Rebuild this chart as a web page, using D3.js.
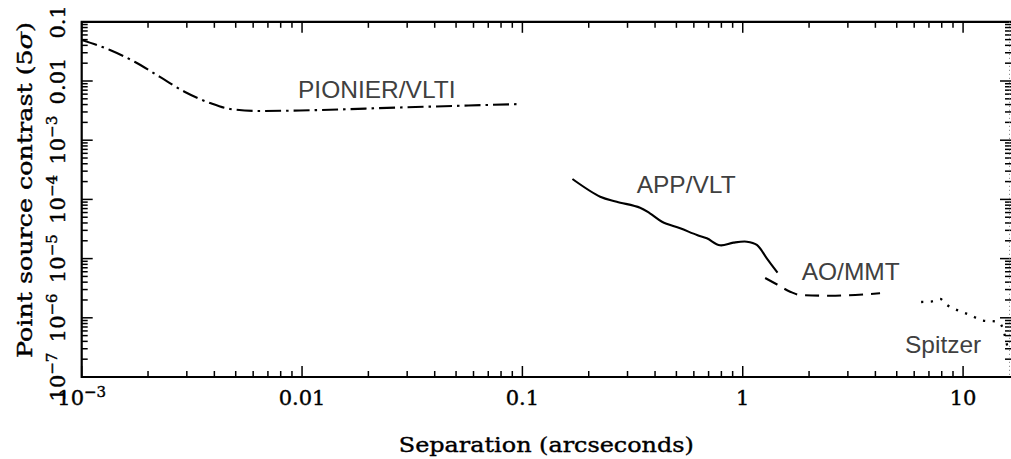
<!DOCTYPE html>
<html><head><meta charset="utf-8">
<script src="https://cdn.jsdelivr.net/npm/d3@7"></script>
<style>html,body{margin:0;padding:0;background:#fff;}svg{display:block;}</style>
</head><body>
<script>
// ---- data ----
const pionierSep = [0.001, 0.001344, 0.001746, 0.002265, 0.002943, 0.00382, 0.00471, 0.00644, 0.00979, 0.0279, 0.0977];
const pionierCon = [0.0493, 0.0334, 0.02094, 0.0117, 0.00652, 0.00425, 0.00337, 0.00311, 0.00318, 0.00357, 0.00408];
const appSep = [0.1687, 0.2255, 0.268, 0.342, 0.379, 0.430, 0.520, 0.620, 0.687, 0.789, 0.907, 1.044, 1.159, 1.286, 1.438];
const appCon = [2.21e-4, 1.11e-4, 9.14e-5, 7.24e-5, 5.82e-5, 4.2e-5, 3.25e-5, 2.5e-5, 2.2e-5, 1.68e-5, 1.86e-5, 1.93e-5, 1.70e-5, 1.01e-5, 5.78e-6];
const mmtSep = [1.264, 1.432, 1.641, 1.82, 2.49, 3.24, 4.2];
const mmtCon = [4.7e-6, 3.65e-6, 2.76e-6, 2.43e-6, 2.36e-6, 2.43e-6, 2.6e-6];
const spitzerSep = [6.45, 7.16, 7.87, 8.47, 9.40, 10.77, 12.33, 14.0, 14.7, 15.36, 15.85];
const spitzerCon = [1.85e-6, 1.88e-6, 2.08e-6, 1.64e-6, 1.35e-6, 1.11e-6, 9.0e-7, 8.65e-7, 8.16e-7, 5.53e-7, 3.39e-7];
const curveNames = ["PIONIER/VLTI", "APP/VLT", "AO/MMT", "Spitzer"];
const xTickVals = [0.001, 0.01, 0.1, 1, 10];
const xTickLabels = [["10", "−3"], ["0.01", ""], ["0.1", ""], ["1", ""], ["10", ""]];
const yTickVals = [0.1, 0.01, 1e-3, 1e-4, 1e-5, 1e-6, 1e-7];
const yTickLabels = [["0.1", ""], ["0.01", ""], ["10", "−3"], ["10", "−4"], ["10", "−5"], ["10", "−6"], ["10", "−7"]];
const xTitle = "Separation (arcseconds)";
const yTitle = "Point source contrast (5";

// ---- layout ----
const W = 1011, H = 459;
const L = 81.7, R = 1011, T = 21.8, B = 377;
const svg = d3.select("body").append("svg").attr("width", W).attr("height", H);
const x = d3.scaleLog().domain([1e-3, 16.5]).range([L, R]);
const y = d3.scaleLog().domain([1e-7, 0.1]).range([B, T]);

// minor ticks
const xMinor = [], yMinor = [];
for (let e = -3; e <= 1; e++) for (let k = 2; k <= 9; k++) { const v = k * Math.pow(10, e); if (v < 16.5) xMinor.push(v); }
for (let e = -7; e <= -2; e++) for (let k = 2; k <= 9; k++) yMinor.push(k * Math.pow(10, e));

const tk = svg.append("g").attr("stroke", "#000").attr("stroke-width", 1.5);
const MAJ = 11, MIN = 6;
xTickVals.forEach(v => {
  tk.append("line").attr("x1", x(v)).attr("x2", x(v)).attr("y1", B).attr("y2", B - MAJ);
  tk.append("line").attr("x1", x(v)).attr("x2", x(v)).attr("y1", T).attr("y2", T + MAJ);
});
xMinor.forEach(v => {
  tk.append("line").attr("x1", x(v)).attr("x2", x(v)).attr("y1", B).attr("y2", B - MIN);
  tk.append("line").attr("x1", x(v)).attr("x2", x(v)).attr("y1", T).attr("y2", T + MIN);
});
yTickVals.forEach(v => {
  tk.append("line").attr("x1", L).attr("x2", L + MAJ).attr("y1", y(v)).attr("y2", y(v));
  tk.append("line").attr("x1", R).attr("x2", R - MAJ).attr("y1", y(v)).attr("y2", y(v));
});
yMinor.forEach(v => {
  tk.append("line").attr("x1", L).attr("x2", L + MIN).attr("y1", y(v)).attr("y2", y(v));
  tk.append("line").attr("x1", R).attr("x2", R - MIN).attr("y1", y(v)).attr("y2", y(v));
});

// frame
svg.append("path").attr("d", `M${R},${T}H${L}V${B}H${R}`).attr("fill", "none").attr("stroke", "#000").attr("stroke-width", 2.2);
svg.append("line").attr("x1", R - 1.5).attr("x2", R - 1.5).attr("y1", T).attr("y2", B)
  .attr("stroke", "#777").attr("stroke-width", 1).attr("stroke-dasharray", "1,3");

// curves
function drawCurve(xs, ys, dash, curve, sw) {
  const pts = xs.map((v, i) => [v, ys[i]]);
  const line = d3.line().x(d => x(d[0])).y(d => y(d[1])).curve(curve);
  svg.append("path").attr("d", line(pts)).attr("fill", "none").attr("stroke", "#000")
    .attr("stroke-width", sw).attr("stroke-dasharray", dash).attr("stroke-linecap", "butt");
}
drawCurve(pionierSep, pionierCon, "16,5,2.5,5", d3.curveMonotoneX, 2.1);
drawCurve(appSep, appCon, null, d3.curveCatmullRom, 2.1);
drawCurve(mmtSep, mmtCon, "14,8", d3.curveMonotoneX, 2.1);
drawCurve(spitzerSep, spitzerCon, "2.2,7.5", d3.curveMonotoneX, 2.3);

// curve labels
const labelPos = [[298, 98], [636.7, 193.3], [801.7, 280], [905, 352.7]];
curveNames.forEach((n, i) => {
  svg.append("text").attr("x", labelPos[i][0]).attr("y", labelPos[i][1])
    .attr("font-family", "Liberation Sans, Arial, sans-serif").attr("font-size", 24.5)
    .attr("fill", "#404040").text(n);
});

// tick labels
const serif = "DejaVu Serif, serif";
xTickVals.forEach((v, i) => {
  const t = svg.append("text").attr("x", x(v)).attr("y", 405).attr("text-anchor", "middle")
    .attr("font-family", serif).attr("font-size", 21).attr("fill", "#000")
    .attr("stroke", "#000").attr("stroke-width", 0.4);
  t.append("tspan").text(xTickLabels[i][0]);
  if (xTickLabels[i][1]) t.append("tspan").attr("dy", -8).attr("font-size", 15).text(xTickLabels[i][1]);
});
yTickVals.forEach((v, i) => {
  const t = svg.append("text").attr("transform", `translate(65,${y(v)}) rotate(-90)`).attr("text-anchor", "middle")
    .attr("font-family", serif).attr("font-size", 21).attr("fill", "#000")
    .attr("stroke", "#000").attr("stroke-width", 0.4);
  t.append("tspan").text(yTickLabels[i][0]);
  if (yTickLabels[i][1]) t.append("tspan").attr("dy", -8).attr("font-size", 15).text(yTickLabels[i][1]);
});

// axis titles
svg.append("text").attr("x", (L + R) / 2).attr("y", 451.7).attr("text-anchor", "middle")
  .attr("font-family", serif).attr("font-size", 21).attr("fill", "#000")
  .attr("stroke", "#000").attr("stroke-width", 0.4)
  .attr("textLength", 295).attr("lengthAdjust", "spacingAndGlyphs").text(xTitle);
const yt = svg.append("text").attr("transform", `translate(32,190) rotate(-90)`).attr("text-anchor", "middle")
  .attr("font-family", serif).attr("font-size", 21).attr("fill", "#000")
  .attr("stroke", "#000").attr("stroke-width", 0.4)
  .attr("textLength", 336).attr("lengthAdjust", "spacingAndGlyphs");
yt.append("tspan").text(yTitle);
yt.append("tspan").attr("font-style", "italic").text("σ");
yt.append("tspan").text(")");
</script>
</body></html>
